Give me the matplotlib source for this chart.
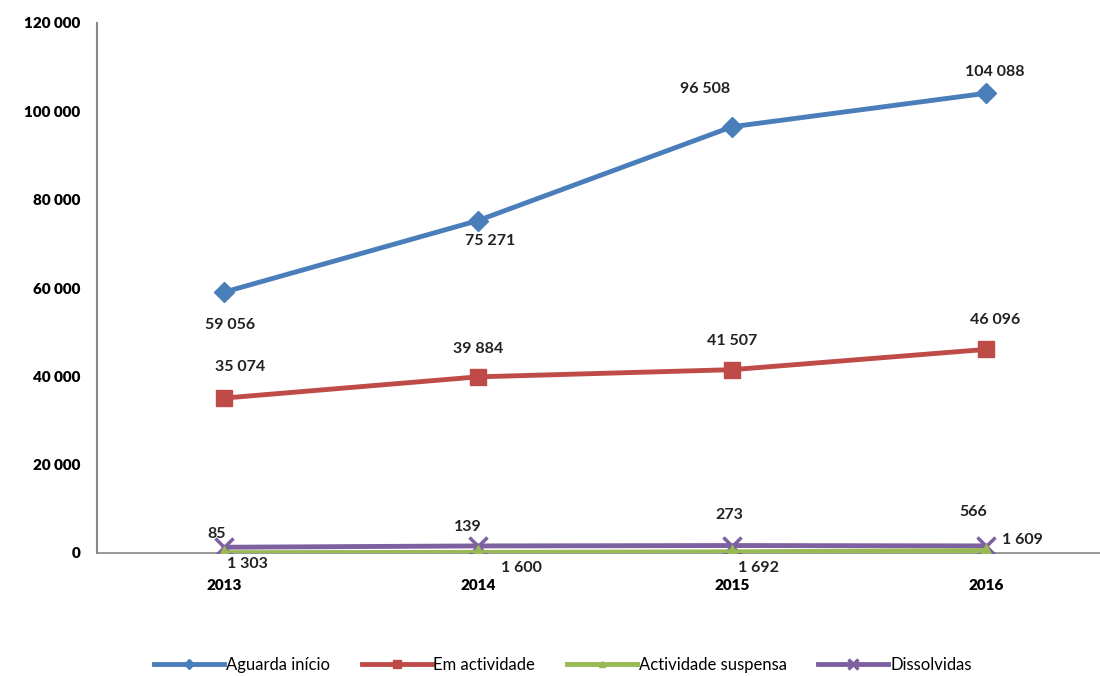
import matplotlib
matplotlib.use("Agg")
import matplotlib.pyplot as plt

years = ["2013", "2014", "2015", "2016"]
aguarda = [59056, 75271, 96508, 104088]
em_actividade = [35074, 39884, 41507, 46096]
suspensa = [85, 139, 273, 566]
dissolvidas = [1303, 1600, 1692, 1609]
yticks = [0, 20000, 40000, 60000, 80000, 100000, 120000]


def fmt(v):
    return f"{v:,}".replace(",", " ")


plt.rcParams['font.family'] = ['Lato', 'DejaVu Sans']

fig = plt.figure(figsize=(11, 6.76), dpi=100)
ax = fig.add_axes([97 / 1100, 123 / 676, 1016 / 1100, 530 / 676])
x = list(range(len(years)))

ax.plot(x, dissolvidas, color='#7D60A0', lw=3.5, marker='x', ms=13, mew=2.5,
        label='Dissolvidas', zorder=3)
ax.plot(x, suspensa, color='#98B954', lw=3.5, marker='^', ms=10,
        label='Actividade suspensa', zorder=4)
ax.plot(x, em_actividade, color='#BE4B48', lw=3.5, marker='s', ms=11,
        label='Em actividade', zorder=5)
ax.plot(x, aguarda, color='#4A7EBB', lw=3.5, marker='D', ms=10,
        label='Aguarda início', zorder=6)

# label offsets in pixels
off_blue = [(6, -33), (12, -20), (-27, 38), (9, 21)]
off_red = [(16, 31), (0, 28), (0, 29), (9, 29)]
off_green = [(-7, 19), (-10, 25), (-3, 37), (-13, 39)]
off_purple = [(23, -17), (43, -22), (27, -22), (36, 6)]

for vals, offs in [(aguarda, off_blue), (em_actividade, off_red),
                   (suspensa, off_green), (dissolvidas, off_purple)]:
    for i, v in enumerate(vals):
        ax.annotate(fmt(v), (i, v), xytext=offs[i], textcoords='offset pixels',
                    ha='center', va='center', fontsize=11.5, fontweight='bold',
                    color='#222222', zorder=10)

ax.set_xlim(-0.5, 3.5)
ax.set_ylim(0, 120000)
ax.set_yticks(yticks)
ax.set_yticklabels([fmt(v) for v in yticks], fontsize=11, fontweight='heavy')
ax.set_xticks(x)
ax.set_xticklabels(years, fontsize=11, fontweight='heavy')
ax.tick_params(axis='both', length=0)
ax.tick_params(axis='x', pad=19)
ax.tick_params(axis='y', pad=12)

for s in ['top', 'right']:
    ax.spines[s].set_visible(False)
ax.spines['left'].set_color('#888888')
ax.spines['bottom'].set_color('#888888')
ax.spines['left'].set_linewidth(1.5)
ax.spines['bottom'].set_linewidth(1.2)

handles, labels = ax.get_legend_handles_labels()
order = [3, 2, 1, 0]
leg = fig.legend([handles[i] for i in order], [labels[i] for i in order],
                 loc='center', bbox_to_anchor=(563 / 1100, 1 - 665 / 676),
                 ncol=4, frameon=False, handlelength=4.2, handletextpad=0.1,
                 columnspacing=1.9, markerscale=0.5,
                 prop={'family': ['Liberation Sans Narrow', 'Lato'], 'size': 12})

fig.savefig("out.png", dpi=100)
